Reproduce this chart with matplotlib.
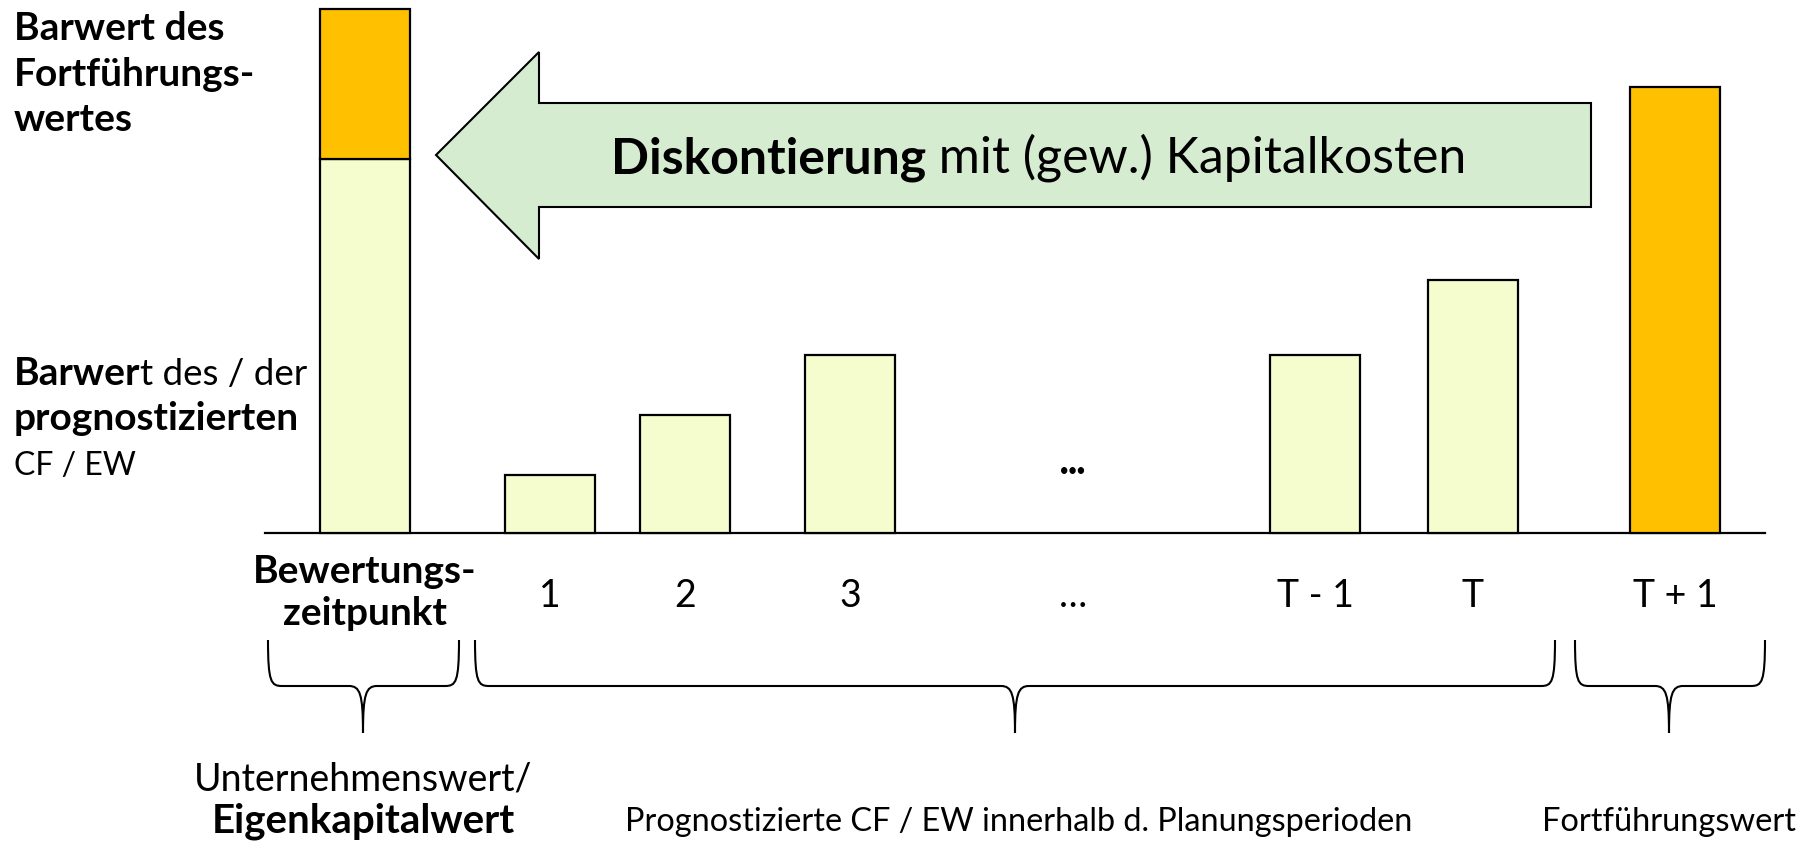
import matplotlib
matplotlib.use('Agg')
import matplotlib.pyplot as plt
from matplotlib.path import Path
from matplotlib.patches import PathPatch, Polygon
from matplotlib.transforms import Affine2D

# values in arbitrary units (Fortführungswert T+1 = 100)
pv_forecast = 83.9      # Barwert der prognostizierten CF / EW
pv_terminal = 33.6      # Barwert des Fortführungswertes
forecast_labels = ['1', '2', '3', 'T - 1', 'T']
forecast_values = [13.0, 26.5, 39.9, 39.9, 56.7]
terminal_label = 'T + 1'
terminal_value = 100.0

W, H = 1809, 842
plt.rcParams['font.family'] = ['Lato', 'DejaVu Sans']

fig = plt.figure(figsize=(W / 100, H / 100), dpi=100)
ax = fig.add_axes([0, 0, 1, 1])
ax.axis('off')

# baseline sits 533 px from top, 100 units = 446 px
base_px, unit_px = 533, 4.46
ax.set_xlim(0, W)
ax.set_ylim(-(H - base_px) / unit_px, base_px / unit_px)

# pixel transform (origin top-left) for annotations
px = Affine2D().scale(1 / W, -1 / H).translate(0, 1) + fig.transFigure

light = '#F5FCCD'
orange = '#FFC000'
green = '#D5ECD1'
bar_w = 90
x_now = 365
x_fc = [550, 685, 850, 1315, 1473]
x_dots = 1073
x_tv = 1675

ax.plot([265, 1765], [0, 0], color='black', lw=1.6, zorder=1)
ax.bar(x_now, pv_forecast, width=bar_w, color=light, edgecolor='black', lw=1.6, zorder=2)
ax.bar(x_now, pv_terminal, bottom=pv_forecast, width=bar_w, color=orange,
       edgecolor='black', lw=1.6, zorder=2)
ax.bar(x_fc, forecast_values, width=bar_w, color=light, edgecolor='black', lw=1.6, zorder=2)
ax.bar(x_tv, terminal_value, width=bar_w, color=orange, edgecolor='black', lw=1.6, zorder=2)
ax.text(x_dots, 471, '•••', transform=px, ha='center', va='center', fontsize=10.5,
        fontweight='bold')

# discounting arrow
arrow_pts = [(436, 155), (539, 52), (539, 103), (1591, 103), (1591, 207),
             (539, 207), (539, 259)]
ax.add_patch(Polygon(arrow_pts, closed=True, transform=px, facecolor=green,
                     edgecolor='black', lw=1.5, zorder=3))


def two_part(x, y, bold, normal, size_b, size_n, center=False):
    t1 = ax.text(x, y, bold, transform=px, fontsize=size_b, fontweight='bold',
                 ha='left', va='baseline', zorder=5)
    t2 = ax.annotate(normal, xy=(1, 0), xycoords=t1, fontsize=size_n,
                     ha='left', va='bottom', zorder=5)
    if center:
        fig.canvas.draw()
        r = fig.canvas.get_renderer()
        w = t1.get_window_extent(r).width + t2.get_window_extent(r).width
        t1.set_x(x - w / 2)
    return t1, t2


two_part(1039, 173, 'Diskontierung', ' mit (gew.) Kapitalkosten', 36, 36, center=True)

# left side labels
bold_lab = 28
for yb, s in zip([40, 86, 131], ['Barwert des', 'Fortführungs-', 'wertes']):
    ax.text(14, yb, s, transform=px, fontsize=bold_lab, fontweight='bold', va='baseline')
two_part(14, 385, 'Barwer', 't des / der', bold_lab, 26.5)
ax.text(14, 430, 'prognostizierten', transform=px, fontsize=bold_lab, fontweight='bold',
        va='baseline')
ax.text(14, 475, 'CF / EW', transform=px, fontsize=23, va='baseline')

# period labels
ax.text(x_now, 583, 'Bewertungs-', transform=px, fontsize=bold_lab, fontweight='bold',
        ha='center', va='baseline')
ax.text(x_now, 625, 'zeitpunkt', transform=px, fontsize=bold_lab, fontweight='bold',
        ha='center', va='baseline')
for x, s in zip(x_fc + [x_dots, x_tv], forecast_labels + ['…', terminal_label]):
    ax.text(x, 607, s, transform=px, fontsize=27, ha='center', va='baseline')


def brace(x0, x1, xc, top=640, mid=686, tip=733):
    verts = [(x0, top), (x0, mid - 4), (x0 + 3, mid), (x0 + 14, mid),
             (xc - 14, mid),
             (xc - 3, mid), (xc, mid + 8), (xc, tip),
             (xc, mid + 8), (xc + 3, mid), (xc + 14, mid),
             (x1 - 14, mid),
             (x1 - 3, mid), (x1, mid - 4), (x1, top)]
    codes = [Path.MOVETO, Path.CURVE4, Path.CURVE4, Path.CURVE4, Path.LINETO,
             Path.CURVE4, Path.CURVE4, Path.CURVE4,
             Path.CURVE4, Path.CURVE4, Path.CURVE4, Path.LINETO,
             Path.CURVE4, Path.CURVE4, Path.CURVE4]
    ax.add_patch(PathPatch(Path(verts, codes), transform=px, fill=False,
                           edgecolor='black', lw=1.5))


brace(268, 459, 363)
brace(475, 1555, 1015)
brace(1575, 1765, 1669)

ax.text(363, 790, 'Unternehmenswert/', transform=px, fontsize=27, ha='center',
        va='baseline')
ax.text(363, 833, 'Eigenkapitalwert', transform=px, fontsize=29, fontweight='bold',
        ha='center', va='baseline')
ax.text(1019, 831, 'Prognostizierte CF / EW innerhalb d. Planungsperioden',
        transform=px, fontsize=23.3, ha='center', va='baseline')
ax.text(1669, 831, 'Fortführungswert', transform=px, fontsize=23.5, ha='center',
        va='baseline')

fig.savefig('out.png', dpi=100)
